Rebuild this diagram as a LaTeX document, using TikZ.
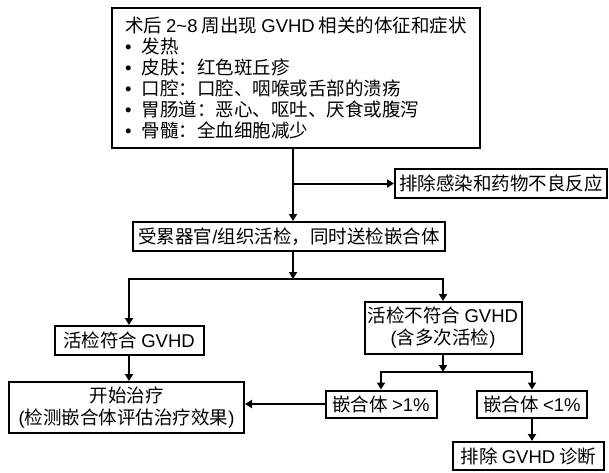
\documentclass[tikz,border=0pt]{standalone}
\usepackage{fontspec}
\setmainfont{Noto Sans CJK SC}
\newfontfamily\lat{Liberation Sans}
\usetikzlibrary{arrows.meta}
\tikzset{
  box/.style={draw, line width=2pt, inner sep=0pt, align=center,
    font=\fontsize{18.5}{22}\selectfont},
  link/.style={line width=2pt, -{Triangle[length=7pt,width=8pt]}}
}
\newcommand{\flowbox}[6]{
  \node[box, minimum width=#4pt, minimum height=#5pt] (#1) at (#2,#3) {#6};
}
\newcommand{\dotitem}{{\lat •}\hspace{10pt}}

\begin{document}
\begin{tikzpicture}[x=1pt, y=-1pt]
  \useasboundingbox (0,0) rectangle (609,472);

  \node[box, align=left, font=\fontsize{18.5}{21}\selectfont,
    minimum width=368pt, minimum height=140pt] (signs) at (296,77.5)
    {术后 {\lat 2\textasciitilde 8} 周出现 {\lat GVHD} 相关的体征和症状\\
     \dotitem 发热\\
     \dotitem 皮肤：红色斑丘疹\\
     \dotitem 口腔：口腔、咽喉或舌部的溃疡\\
     \dotitem 胃肠道：恶心、呕吐、厌食或腹泻\\
     \dotitem 骨髓：全血细胞减少};
  \flowbox{infect}{501}{183.5}{212}{29}{排除感染和药物不良反应}
  \flowbox{biopsy}{289}{236.5}{312}{29}{受累器官{\lat /}组织活检，同时送检嵌合体}
  \flowbox{match}{129}{340.5}{149}{29}{活检符合 {\lat GVHD}}
  \flowbox{nomatch}{443}{328}{157}{52}{活检不符合 {\lat GVHD}\\{\lat (}含多次活检{\lat )}}
  \flowbox{treat}{126.5}{407.5}{235}{51}{开始治疗\\{\lat (}检测嵌合体评估治疗效果{\lat )}}
  \flowbox{high}{381}{404}{111}{27}{嵌合体 {\lat >1\%}}
  \flowbox{low}{532}{404}{110}{27}{嵌合体 {\lat <1\%}}
  \flowbox{exclude}{528.5}{456}{151}{28}{排除 {\lat GVHD} 诊断}

  \coordinate (trunk) at (293,0);
  \coordinate (fork) at (293,279);
  \coordinate (fork2) at (443,372);

  \draw[link] (signs.south -| trunk) -- (biopsy.north -| trunk);
  \draw[link] (trunk |- infect.west) -- (infect.west);
  \draw[link] (biopsy.south -| trunk) -- (fork);
  \draw[link] (fork) -| (match.north);
  \draw[link] (fork) -| (nomatch.north);
  \draw[link] (match.south) -- (treat.north -| match.south);
  \draw[link] (nomatch.south) -- (fork2);
  \draw[link] (fork2) -| (high.north);
  \draw[link] (fork2) -| (low.north);
  \draw[link] (low.south) -- (exclude.north -| low.south);
  \draw[link] (high.west) -- (treat.east |- high.west);
\end{tikzpicture}
\end{document}
